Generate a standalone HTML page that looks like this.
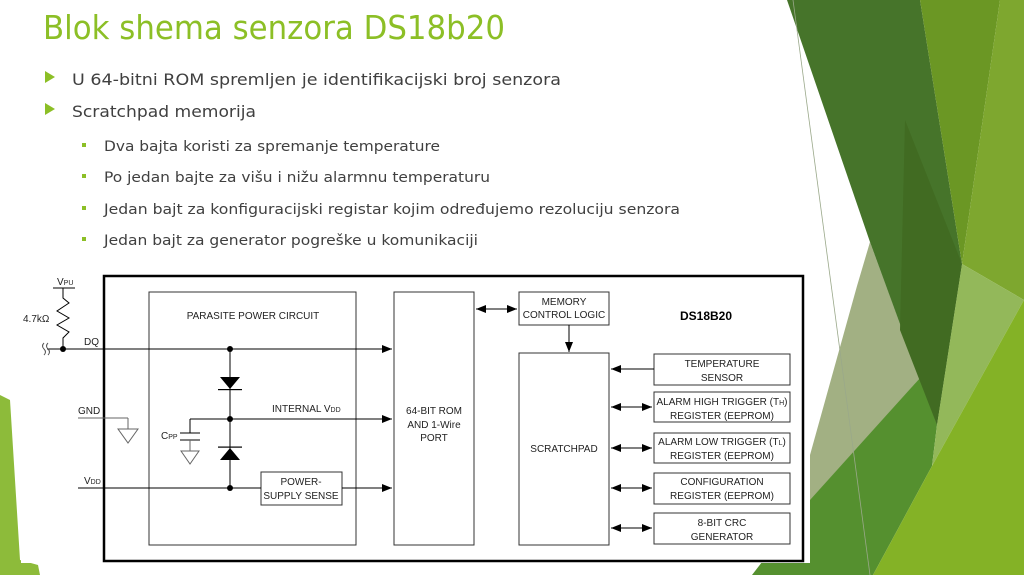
<!DOCTYPE html>
<html><head><meta charset="utf-8"><style>
html,body{margin:0;padding:0;background:#fff;}
svg{display:block;}
</style></head><body>
<svg width="1024" height="575" viewBox="0 0 1024 575" xmlns="http://www.w3.org/2000/svg" font-family="Liberation Sans, sans-serif">
<rect width="1024" height="575" fill="#fff"/>
<!-- background green shapes -->
<polygon points="870,242 920,378 810,505 810,455 857,286" fill="#a2b083"/>
<polygon points="920,378 937,425 932,466 873,575 752,575 810,500" fill="#55902f"/>
<polygon points="787,0 920,0 962,264 937,425 870,242" fill="#46742a"/>
<polygon points="905,120 962,264 937,425 900,330" fill="#416b22"/>
<polygon points="920,0 1000,0 962,264" fill="#6b9724"/>
<polygon points="1000,0 1024,0 1024,300 962,264" fill="#7ea72f"/>
<polygon points="962,264 1024,300 932,466 937,425" fill="#93b85a"/>
<polygon points="1024,300 1024,575 873,575 932,466" fill="#84b226"/>
<line x1="793" y1="0" x2="870" y2="575" stroke="#9aa88a" stroke-width="0.8"/>
<polygon points="0,395 10,400 20,560 38,565 40,575 0,575" fill="#8dbb3a"/>
<!-- title & bullets -->
<text x="43" y="39" font-family="DejaVu Sans, sans-serif" font-size="33" fill="#8cbf26" textLength="462" lengthAdjust="spacingAndGlyphs">Blok shema senzora DS18b20</text>
<polygon points="45,71 45,83 55,77" fill="#8cbf26"/>
<polygon points="45,103 45,115 55,109" fill="#8cbf26"/>
<g fill="#404040" font-size="16" font-family="DejaVu Sans, sans-serif">
<text x="72" y="85" textLength="489" lengthAdjust="spacingAndGlyphs">U 64-bitni ROM spremljen je identifikacijski broj senzora</text>
<text x="72" y="117" textLength="184" lengthAdjust="spacingAndGlyphs">Scratchpad memorija</text>
</g>
<g fill="#8cbf26"><rect x="82" y="143" width="4" height="4"/><rect x="82" y="174" width="4" height="4"/><rect x="82" y="206" width="4" height="4"/><rect x="82" y="237" width="4" height="4"/></g>
<g fill="#404040" font-size="14.5" font-family="DejaVu Sans, sans-serif">
<text x="104" y="151" textLength="336" lengthAdjust="spacingAndGlyphs">Dva bajta koristi za spremanje temperature</text>
<text x="104" y="182" textLength="386" lengthAdjust="spacingAndGlyphs">Po jedan bajte za višu i nižu alarmnu temperaturu</text>
<text x="104" y="214" textLength="576" lengthAdjust="spacingAndGlyphs">Jedan bajt za konfiguracijski registar kojim određujemo rezoluciju senzora</text>
<text x="104" y="245" textLength="374" lengthAdjust="spacingAndGlyphs">Jedan bajt za generator pogreške u komunikaciji</text>
</g>
<!-- diagram -->
<rect x="21" y="268" width="789" height="295" fill="#fff"/>
<defs><marker id="a" markerWidth="10" markerHeight="8" refX="10" refY="4" orient="auto" markerUnits="userSpaceOnUse"><path d="M0,0 L10,4 L0,8 z" fill="#000"/></marker>
<marker id="b" markerWidth="10" markerHeight="8" refX="0" refY="4" orient="auto" markerUnits="userSpaceOnUse"><path d="M10,0 L0,4 L10,8 z" fill="#000"/></marker></defs>
<rect x="104" y="276" width="699" height="285" fill="none" stroke="#000" stroke-width="2.5"/>
<g fill="none" stroke="#333" stroke-width="1">
<rect x="149" y="292" width="207" height="253"/>
<rect x="394" y="292" width="80" height="253"/>
<rect x="519" y="292" width="90" height="33"/>
<rect x="519" y="353" width="90" height="192"/>
<rect x="654" y="354" width="136" height="31"/>
<rect x="654" y="392" width="136" height="30"/>
<rect x="654" y="433" width="136" height="30"/>
<rect x="654" y="473" width="136" height="31"/>
<rect x="654" y="513" width="136" height="31"/>
<rect x="261" y="472" width="81" height="33"/>
</g>
<g stroke="#000" stroke-width="1" fill="none">
<line x1="53" y1="288" x2="75" y2="288"/>
<polyline points="63,288 63,298 69,303 57,311 69,318 57,325 69,332 63,338 63,349"/>
<line x1="47" y1="349" x2="392" y2="349" marker-end="url(#a)"/>
<line x1="230" y1="349" x2="230" y2="488"/>
<line x1="190" y1="419" x2="392" y2="419" marker-end="url(#a)"/>
<line x1="78" y1="418" x2="128" y2="418" stroke="#666"/>
<line x1="128" y1="418" x2="128" y2="429" stroke="#666"/>
<polygon points="118,429 138,429 128,443" stroke="#666"/>
<line x1="190" y1="419" x2="190" y2="433"/>
<line x1="180" y1="433" x2="200" y2="433"/>
<line x1="180" y1="440" x2="200" y2="440"/>
<line x1="190" y1="440" x2="190" y2="451" stroke="#666"/>
<polygon points="181,451 199,451 190,464" stroke="#666"/>
<line x1="78" y1="488" x2="261" y2="488"/>
<line x1="342" y1="488" x2="392" y2="488" marker-end="url(#a)"/>
<line x1="476" y1="309" x2="517" y2="309" marker-start="url(#b)" marker-end="url(#a)"/>
<line x1="569" y1="325" x2="569" y2="352" marker-end="url(#a)"/>
<line x1="611" y1="369" x2="654" y2="369" marker-start="url(#b)"/>
<line x1="611" y1="407" x2="652" y2="407" marker-start="url(#b)" marker-end="url(#a)"/>
<line x1="611" y1="448" x2="652" y2="448" marker-start="url(#b)" marker-end="url(#a)"/>
<line x1="611" y1="488" x2="652" y2="488" marker-start="url(#b)" marker-end="url(#a)"/>
<line x1="611" y1="528" x2="652" y2="528" marker-start="url(#b)" marker-end="url(#a)"/>
<path d="M44,343 q-3,3 0,6 q3,3 0,6 M48,343 q-3,3 0,6 q3,3 0,6" stroke="#555"/>
</g>
<g fill="#000">
<circle cx="63" cy="349" r="3"/><circle cx="230" cy="349" r="3"/><circle cx="230" cy="419" r="3"/><circle cx="230" cy="488" r="3"/>
<polygon points="220,377 240,377 230,389"/>
<rect x="218" y="389" width="24" height="1.2"/>
<polygon points="220,460 240,460 230,448"/>
<rect x="218" y="446.5" width="24" height="1.2"/>
</g>
<g font-size="10" fill="#222" text-anchor="middle">
<text x="253" y="319">PARASITE POWER CIRCUIT</text>
<text x="434" y="414">64-BIT ROM</text>
<text x="434" y="428">AND 1-Wire</text>
<text x="434" y="441">PORT</text>
<text x="564" y="305">MEMORY</text>
<text x="564" y="318">CONTROL LOGIC</text>
<text x="564" y="452">SCRATCHPAD</text>
<text x="722" y="367">TEMPERATURE</text>
<text x="722" y="381">SENSOR</text>
<text x="722" y="405">ALARM HIGH TRIGGER (T<tspan font-size="7">H</tspan>)</text>
<text x="722" y="419">REGISTER (EEPROM)</text>
<text x="722" y="445">ALARM LOW TRIGGER (T<tspan font-size="7">L</tspan>)</text>
<text x="722" y="459">REGISTER (EEPROM)</text>
<text x="722" y="485">CONFIGURATION</text>
<text x="722" y="499">REGISTER (EEPROM)</text>
<text x="722" y="526">8-BIT CRC</text>
<text x="722" y="540">GENERATOR</text>
<text x="301" y="485">POWER-</text>
<text x="301" y="499">SUPPLY SENSE</text>
<text x="706" y="320" font-size="12" font-weight="bold" fill="#000">DS18B20</text>
</g>
<g font-size="10" fill="#222">
<text x="272" y="412">INTERNAL V<tspan font-size="7">DD</tspan></text>
<text x="84" y="345">DQ</text>
<text x="78" y="414">GND</text>
<text x="84" y="484">V<tspan font-size="7">DD</tspan></text>
<text x="57" y="285">V<tspan font-size="7">PU</tspan></text>
<text x="23" y="322">4.7kΩ</text>
<text x="161" y="439">C<tspan font-size="7">PP</tspan></text>
</g>
</svg>
</body></html>
